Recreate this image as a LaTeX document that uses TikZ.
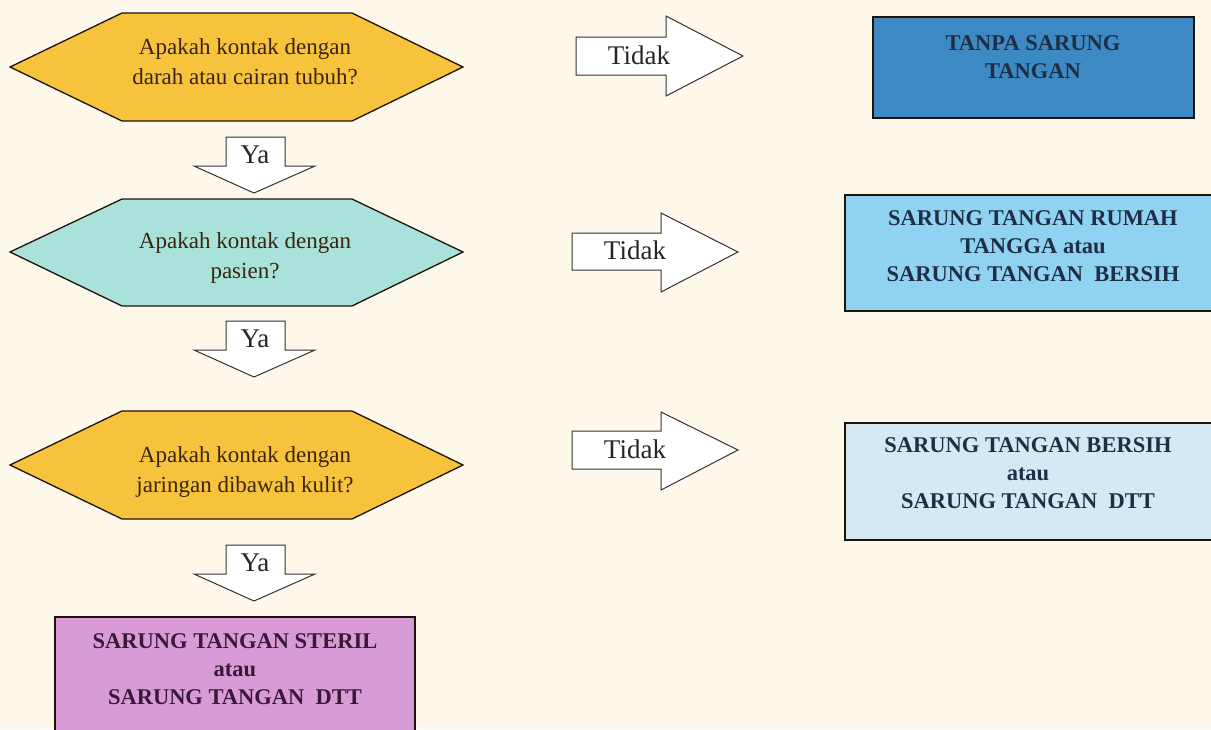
\documentclass[tikz,border=0pt]{standalone}
\usepackage{fontspec}
\setmainfont{Liberation Serif}
\definecolor{bg}{HTML}{FDF8EA}
\definecolor{qyellow}{HTML}{F8C33C}
\definecolor{qteal}{HTML}{A9E2DA}
\definecolor{bdark}{HTML}{3D89C4}
\definecolor{blight}{HTML}{8FD2F1}
\definecolor{bpale}{HTML}{D4E9F3}
\definecolor{bpink}{HTML}{D99BD6}
\definecolor{qtext}{HTML}{3A2410}
\definecolor{btext}{HTML}{1F2E45}
\definecolor{ptext}{HTML}{3A1838}
\tikzset{
  outl/.style={draw=black!85!brown, line width=1.3pt, line join=miter},
  qtxt/.style={text=qtext, align=center, font=\fontsize{23}{30}\selectfont},
  btxt/.style={text=btext, align=center, font=\fontsize{22.5}{28}\selectfont\bfseries},
  arr/.style={draw=black!80, line width=1pt, fill=white, line join=miter},
  atxt/.style={text=black!85, font=\fontsize{27}{28}\selectfont},
}
\begin{document}
\begin{tikzpicture}[x=1pt,y=-1pt]
\fill[bg] (0,0) rectangle (1211,729);
\useasboundingbox (0,0) rectangle (1211,729);
% hexagons
\draw[outl, fill=qyellow] (10,67) -- (122,13) -- (352,13) -- (463,67) -- (352,121) -- (122,121) -- cycle;
\node[qtxt] (q1) at (245,62) {Apakah kontak dengan\\darah atau cairan tubuh?};
\draw[outl, fill=qteal] (10,252) -- (122,199) -- (352,199) -- (463,252) -- (352,306) -- (122,306) -- cycle;
\node[qtxt] (q2) at (245,258) {Apakah kontak dengan\\pasien?};
\draw[outl, fill=qyellow] (10,465) -- (122,411) -- (352,411) -- (463,465) -- (352,519) -- (122,519) -- cycle;
\node[qtxt] (q3) at (245,472) {Apakah kontak dengan\\jaringan dibawah kulit?};
% result boxes
\node[outl, fill=bdark, minimum width=321pt, minimum height=101pt, inner sep=0pt] (r1) at (1033.5,67.5) {};
\node[btxt] (t1) at (1033,57) {TANPA SARUNG\\TANGAN};
\draw[outl, fill=blight] (1213,195) -- (845,195) -- (845,311) -- (1213,311);
\node[btxt] (r2) at (1033,246) {SARUNG TANGAN RUMAH\\TANGGA atau\\SARUNG TANGAN \ BERSIH};
\draw[outl, fill=bpale] (1213,423) -- (845,423) -- (845,540) -- (1213,540);
\node[btxt] (r3) at (1028,473) {SARUNG TANGAN BERSIH\\atau\\SARUNG TANGAN \ DTT};
\draw[outl, fill=bpink] (55,731) -- (55,617) -- (415,617) -- (415,731);
\node[btxt, text=ptext] (r4) at (235,669) {SARUNG TANGAN STERIL\\atau\\SARUNG TANGAN \ DTT};
% Ya arrows
\foreach \t in {137,321,545}{
  \draw[arr] (226,\t) -- (285,\t) -- (285,\t+29) -- (315,\t+29) -- (254,\t+56) -- (194,\t+29) -- (226,\t+29) -- cycle;
}
\node[atxt] (ya1) at (255,155) {Ya};
\node[atxt] (ya2) at (255,339) {Ya};
\node[atxt] (ya3) at (255,563) {Ya};
% Tidak arrows
\draw[arr] (576,37) -- (666,37) -- (666,16) -- (743,56) -- (666,96) -- (666,75) -- (576,75) -- cycle;
\node[atxt] (n1) at (639,55) {Tidak};
\draw[arr] (572,233) -- (661,233) -- (661,213) -- (738,252) -- (661,292) -- (661,270) -- (572,270) -- cycle;
\node[atxt] (n2) at (635,250) {Tidak};
\draw[arr] (572,431) -- (661,431) -- (661,412) -- (738,450) -- (661,490) -- (661,469) -- (572,469) -- cycle;
\node[atxt] (n3) at (635,449) {Tidak};
\end{tikzpicture}
\end{document}
